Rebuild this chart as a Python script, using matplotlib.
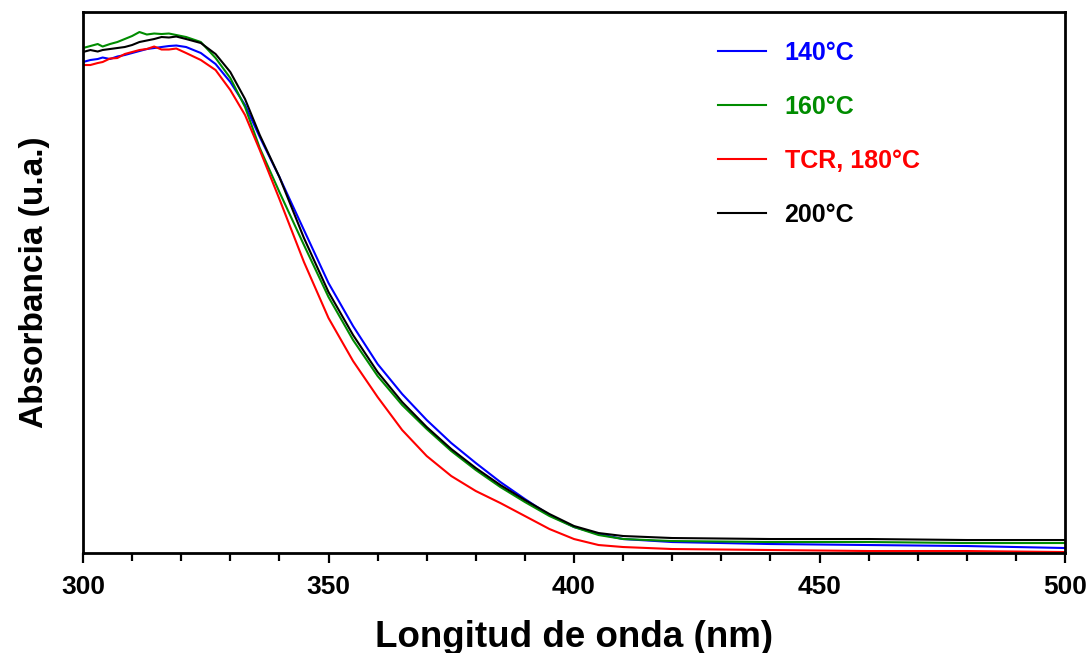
import numpy as np
import matplotlib
matplotlib.use("Agg")
from matplotlib import pyplot as plt
from matplotlib.ticker import MultipleLocator

plt.rcParams['font.family'] = ['Liberation Sans', 'DejaVu Sans']
plt.rcParams['font.weight'] = 'bold'

# longitud de onda (nm)
wl = [300, 301.5, 303, 304, 305.5, 307, 308.5, 310, 311.5, 313, 314.5, 316, 317.5, 319,
      321, 324, 327, 330, 333, 336, 340, 345, 350, 355, 360, 365, 370, 375, 380, 385,
      390, 395, 400, 405, 410, 420, 440, 460, 480, 500]

abs_140 = [.491, .493, .494, .4955, .494, .4965, .498, .500, .502, .504, .505, .506, .507, .5075,
           .506, .500, .489, .471, .448, .416, .376, .323, .270, .227, .189, .159, .133, .110, .090, .071,
           .054, .038, .026, .019, .014, .011, .009, .008, .007, .005]

abs_160 = [.505, .507, .509, .5065, .509, .511, .514, .517, .521, .5185, .5195, .519, .5195, .518,
           .516, .511, .495, .475, .446, .405, .361, .308, .256, .213, .177, .148, .124, .102, .083, .066,
           .051, .037, .026, .018, .014, .012, .011, .011, .010, .010]

abs_180 = [.488, .488, .490, .491, .4945, .495, .499, .501, .503, .504, .5065, .5035, .5035, .5045,
           .500, .493, .483, .463, .438, .403, .354, .291, .235, .192, .156, .123, .097, .077, .062, .050,
           .037, .024, .014, .008, .006, .004, .003, .002, .002, .001]

abs_200 = [.501, .503, .5015, .503, .504, .505, .506, .508, .511, .5125, .514, .516, .5155, .5165,
           .514, .510, .499, .481, .454, .418, .376, .315, .261, .218, .181, .151, .126, .104, .085, .068,
           .053, .039, .027, .020, .017, .015, .014, .014, .013, .013]

series = [
  (abs_140, '140°C', '#0000ff'),
  (abs_160, '160°C', '#008c00'),
  (abs_180, 'TCR, 180°C', '#ff0000'),
  (abs_200, '200°C', '#000000'),
]

fig = plt.figure(figsize=(10.92, 6.53), dpi=100)
ax = fig.add_axes([0.076, 0.1531, 0.8993, 0.8285])

for y, lab, col in series:
  ax.plot(wl, y, color=col, lw=1.5, label=lab)

ax.set_xlim(300, 500)
ax.set_ylim(0, 0.541)

# eje x: mayores cada 50 nm, menores cada 10 nm
ax.xaxis.set_major_locator(MultipleLocator(50))
ax.xaxis.set_minor_locator(MultipleLocator(10))
ax.tick_params(axis='x', which='major', direction='out', length=7, width=1.6,
               labelsize=19, pad=9)
ax.tick_params(axis='x', which='minor', direction='out', length=5.5, width=1.6)
ax.tick_params(axis='y', left=False, labelleft=False)
for s in ax.spines.values():
  s.set_linewidth(2.0)

ax.set_xlabel('Longitud de onda (nm)', fontsize=26.5, fontweight='bold', labelpad=15)
ax.set_ylabel('Absorbancia (u.a.)', fontsize=24, fontweight='bold', labelpad=24)

leg = ax.legend(loc='upper left', bbox_to_anchor=(0.647, 0.946), frameon=False,
                prop={'size': 18, 'weight': 'bold'}, labelcolor='linecolor',
                handlelength=1.9, handletextpad=0.75, labelspacing=1.2,
                borderpad=0, borderaxespad=0)

fig.savefig('out.png', dpi=100)
